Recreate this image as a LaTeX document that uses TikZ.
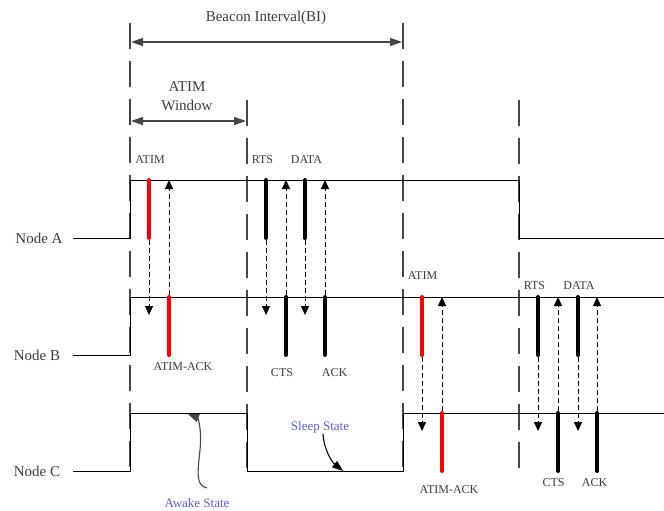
\documentclass[tikz,border=0pt]{standalone}
\usepackage{fontspec}
\setmainfont{Liberation Serif}
\usetikzlibrary{arrows.meta}
\definecolor{txt}{RGB}{60,60,60}
\definecolor{dashc}{RGB}{70,70,70}
\definecolor{bluet}{RGB}{90,90,235}
\definecolor{redm}{RGB}{255,0,0}
\tikzset{
  sig/.style={line width=1pt,black},
  bound/.style={dashc,line width=1.8pt,dash pattern=on 26pt off 12pt},
  msgbar/.style={line width=4pt,line cap=round},
  redbar/.style={msgbar,redm},
  blkbar/.style={msgbar,black},
  flow/.style={line width=1pt,dash pattern=on 5pt off 3pt,-{Triangle[length=9pt,width=8pt]}},
  dim/.style={line width=1.2pt,dashc,{Triangle[length=12pt,width=8pt]}-{Triangle[length=12pt,width=8pt]}},
  big/.style={txt,font=\fontsize{15}{17}\selectfont,inner sep=0pt},
  small/.style={txt,font=\fontsize{12}{14}\selectfont,inner sep=0pt},
  state/.style={bluet,font=\fontsize{13}{15}\selectfont,inner sep=0pt},
  curvy/.style={line width=1.1pt,-{Triangle[length=11pt,width=8pt]}}
}
\begin{document}
\begin{tikzpicture}[x=1pt,y=-1pt]
\useasboundingbox (0,0) rectangle (664,511);

% boundary dashed lines
\coordinate (b1t) at (130,23);  \coordinate (b1b) at (130,472);
\coordinate (b2t) at (247,100); \coordinate (b2b) at (247,472);
\coordinate (b3t) at (403,23);  \coordinate (b3b) at (403,472);
\coordinate (b4t) at (519,100); \coordinate (b4b) at (519,472);
\draw[bound] (b1t) -- (b1b);
\draw[bound] (b2t) -- (b2b);
\draw[bound] (b3t) -- (b3b);
\draw[bound] (b4t) -- (b4b);

% dimension arrows
\coordinate (bi1) at (131,42); \coordinate (bi2) at (402,42);
\draw[dim] (bi1) -- (bi2);
\node[big] (bil) at (266,18) {Beacon Interval(BI)};
\coordinate (aw1) at (131,121); \coordinate (aw2) at (246,121);
\draw[dim] (aw1) -- (aw2);
\node[big,align=center] (awl) at (187,96) {ATIM\\[2pt]Window};

% node labels
\node[big] (na) at (39,238) {Node A};
\node[big] (nb) at (37,355) {Node B};
\node[big] (nc) at (37,471) {Node C};

% signal lines
\draw[sig] (73,238) -- (130,238) -- (130,180) -- (519,180) -- (519,238) -- (664,238);
\draw[sig] (73,355) -- (130,355) -- (130,297) -- (664,297);
\draw[sig] (73,471) -- (130,471) -- (130,413) -- (247,413) -- (247,471) -- (403,471) -- (403,413) -- (664,413);

% first group: A -> B
\draw[redbar] (149,180) -- (149,238);
\draw[flow] (149,240) -- (149,315);
\draw[redbar] (169,297) -- (169,355);
\draw[flow] (169,295) -- (169,180);
\draw[blkbar] (266,180) -- (266,238);
\draw[flow] (266,240) -- (266,315);
\draw[blkbar] (286,297) -- (286,355);
\draw[flow] (286,295) -- (286,180);
\draw[blkbar] (305,180) -- (305,238);
\draw[flow] (305,240) -- (305,315);
\draw[blkbar] (325,297) -- (325,355);
\draw[flow] (325,295) -- (325,180);

\node[small] (l1) at (150,160) {ATIM};
\node[small] (l2) at (262.5,160) {RTS};
\node[small] (l3) at (306.5,160) {DATA};
\node[small] (l4) at (183,367) {ATIM-ACK};
\node[small] (l5) at (282,373) {CTS};
\node[small] (l6) at (334.5,373) {ACK};

% second group: B -> C
\draw[redbar] (422,297) -- (422,355);
\draw[flow] (422,357) -- (422,431);
\draw[redbar] (442,413) -- (442,471);
\draw[flow] (442,411) -- (442,297);
\draw[blkbar] (538,297) -- (538,355);
\draw[flow] (538,357) -- (538,431);
\draw[blkbar] (558,413) -- (558,471);
\draw[flow] (558,411) -- (558,297);
\draw[blkbar] (578,297) -- (578,355);
\draw[flow] (578,357) -- (578,431);
\draw[blkbar] (597,413) -- (597,471);
\draw[flow] (597,411) -- (597,297);

\node[small] (m1) at (422.5,276) {ATIM};
\node[small] (m2) at (534.5,286) {RTS};
\node[small] (m3) at (579,286) {DATA};
\node[small] (m4) at (449,490) {ATIM-ACK};
\node[small] (m5) at (553.5,483) {CTS};
\node[small] (m6) at (594.5,483) {ACK};

% state annotations
\node[state] (aws) at (197,503) {Awake State};
\node[state] (sls) at (320,427) {Sleep State};
\coordinate (awt) at (188,414);
\coordinate (slt) at (343,471);
\draw[curvy,dashc] (207,488) .. controls (195,486) and (198,470) .. (200,450) .. controls (202,430) and (198,418) .. (awt);
\draw[curvy] (323,434) .. controls (324,450) and (332,462) .. (slt);
\end{tikzpicture}
\end{document}
